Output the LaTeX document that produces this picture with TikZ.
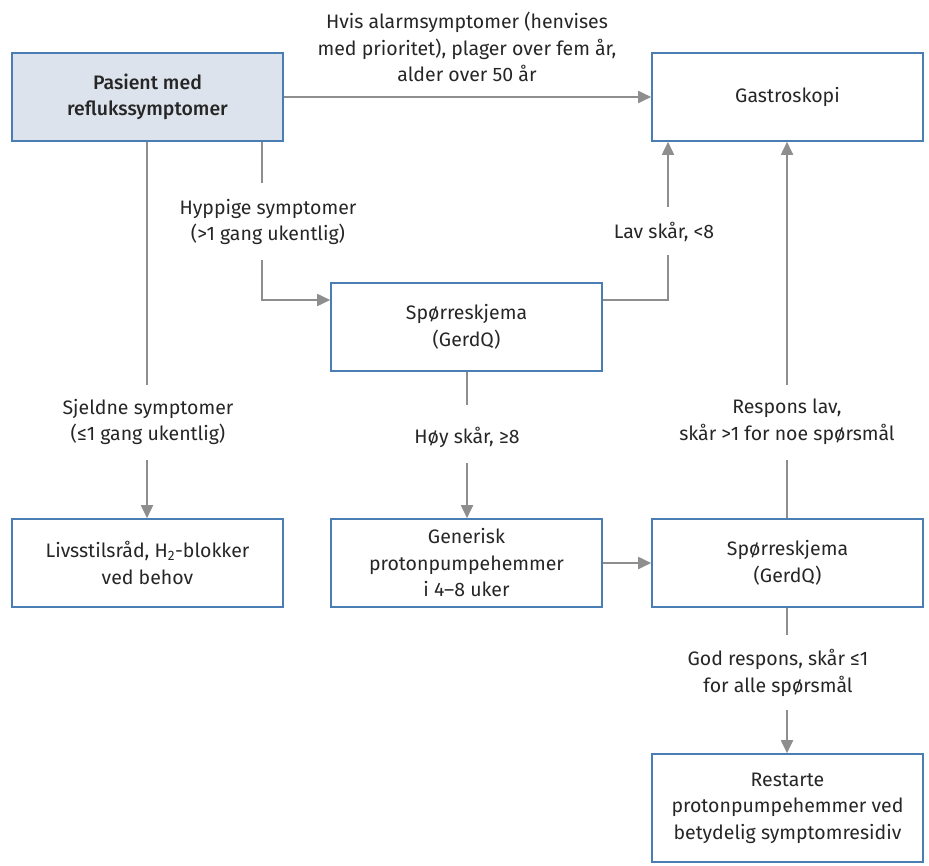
\documentclass[tikz,border=0pt]{standalone}
\usepackage{fontspec}
\setmainfont{Fira Sans}
\newfontfamily\medfont{Fira Sans Medium}
\usetikzlibrary{arrows.meta}
\definecolor{bordc}{HTML}{4A7DB3}
\definecolor{fillc}{HTML}{DDE3ED}
\definecolor{linec}{HTML}{8E8E8E}
\definecolor{txtc}{HTML}{262626}
\begin{document}
\begin{tikzpicture}[x=1pt,y=-1pt,
  every node/.style={font=\fontsize{19.5}{26.5}\selectfont, text=txtc},
  box/.style={draw=bordc, line width=1.6pt, minimum width=271pt, minimum height=88pt, align=center, inner sep=0pt},
  lab/.style={align=center, inner sep=0pt},
  conn/.style={draw=linec, line width=1.8pt},
  arr/.style={conn, -{Triangle[width=12pt,length=13pt]}}]
\useasboundingbox (0,0) rectangle (929,865);
\node[box, fill=fillc, font=\fontsize{19.5}{26.5}\medfont] (pas) at (147.5,97) {Pasient med\\reflukssymptomer};
\node[box] (gas) at (787.5,97) {Gastroskopi};
\node[box] (sp1) at (466.5,327) {Spørreskjema\\(GerdQ)};
\node[box] (liv) at (147.5,563) {Livsstilsråd, H\textsubscript{2}-blokker\\ved behov};
\node[box] (gen) at (466.5,563) {Generisk\\protonpumpehemmer\\i 4–8 uker};
\node[box] (sp2) at (787.5,563) {Spørreskjema\\(GerdQ)};
\node[box, minimum height=108pt] (res) at (787.5,808) {Restarte\\protonpumpehemmer ved\\betydelig symptomresidiv};

\node[lab] (l1) at (467,47) {Hvis alarmsymptomer (henvises\\med prioritet), plager over fem år,\\alder over 50 år};
\node[lab] (l2) at (268,222) {Hyppige symptomer\\(>1 gang ukentlig)};
\node[lab] (l3) at (148,422) {Sjeldne symptomer\\(≤1 gang ukentlig)};
\node[lab] (l4) at (467,437) {Høy skår, ≥8};
\node[lab] (l5) at (664,232) {Lav skår, <8};
\node[lab] (l6) at (787,422) {Respons lav,\\skår >1 for noe spørsmål};
\node[lab] (l7) at (778,673) {God respons, skår ≤1\\for alle spørsmål};

\coordinate (a1) at (262,183);
\coordinate (a2) at (262,260);
\coordinate (b1) at (147,385);
\coordinate (b2) at (147,460);
\coordinate (c1) at (467,405);
\coordinate (c2) at (467,463);
\coordinate (d1) at (668,255);
\coordinate (d2) at (668,207);
\coordinate (e1) at (787,460);
\coordinate (e2) at (787,385);
\coordinate (f1) at (787,635);
\coordinate (f2) at (787,710);

\draw[arr] (pas.east) -- (gas.west);
\draw[conn] (pas.south -| a1) -- (a1);
\draw[arr] (a2) |- (sp1.west |- 0,300);
\draw[conn] (pas.south -| b1) -- (b1);
\draw[arr] (b2) -- (liv.north -| b2);
\draw[conn] (sp1.south -| c1) -- (c1);
\draw[arr] (c2) -- (gen.north -| c2);
\draw[conn] (sp1.east |- 0,300) -| (d1);
\draw[arr] (d2) -- (gas.south -| d2);
\draw[arr] (gen.east) -- (sp2.west);
\draw[conn] (sp2.north -| e1) -- (e1);
\draw[arr] (e2) -- (gas.south -| e2);
\draw[conn] (sp2.south -| f1) -- (f1);
\draw[arr] (f2) -- (res.north -| f2);
\end{tikzpicture}
\end{document}
